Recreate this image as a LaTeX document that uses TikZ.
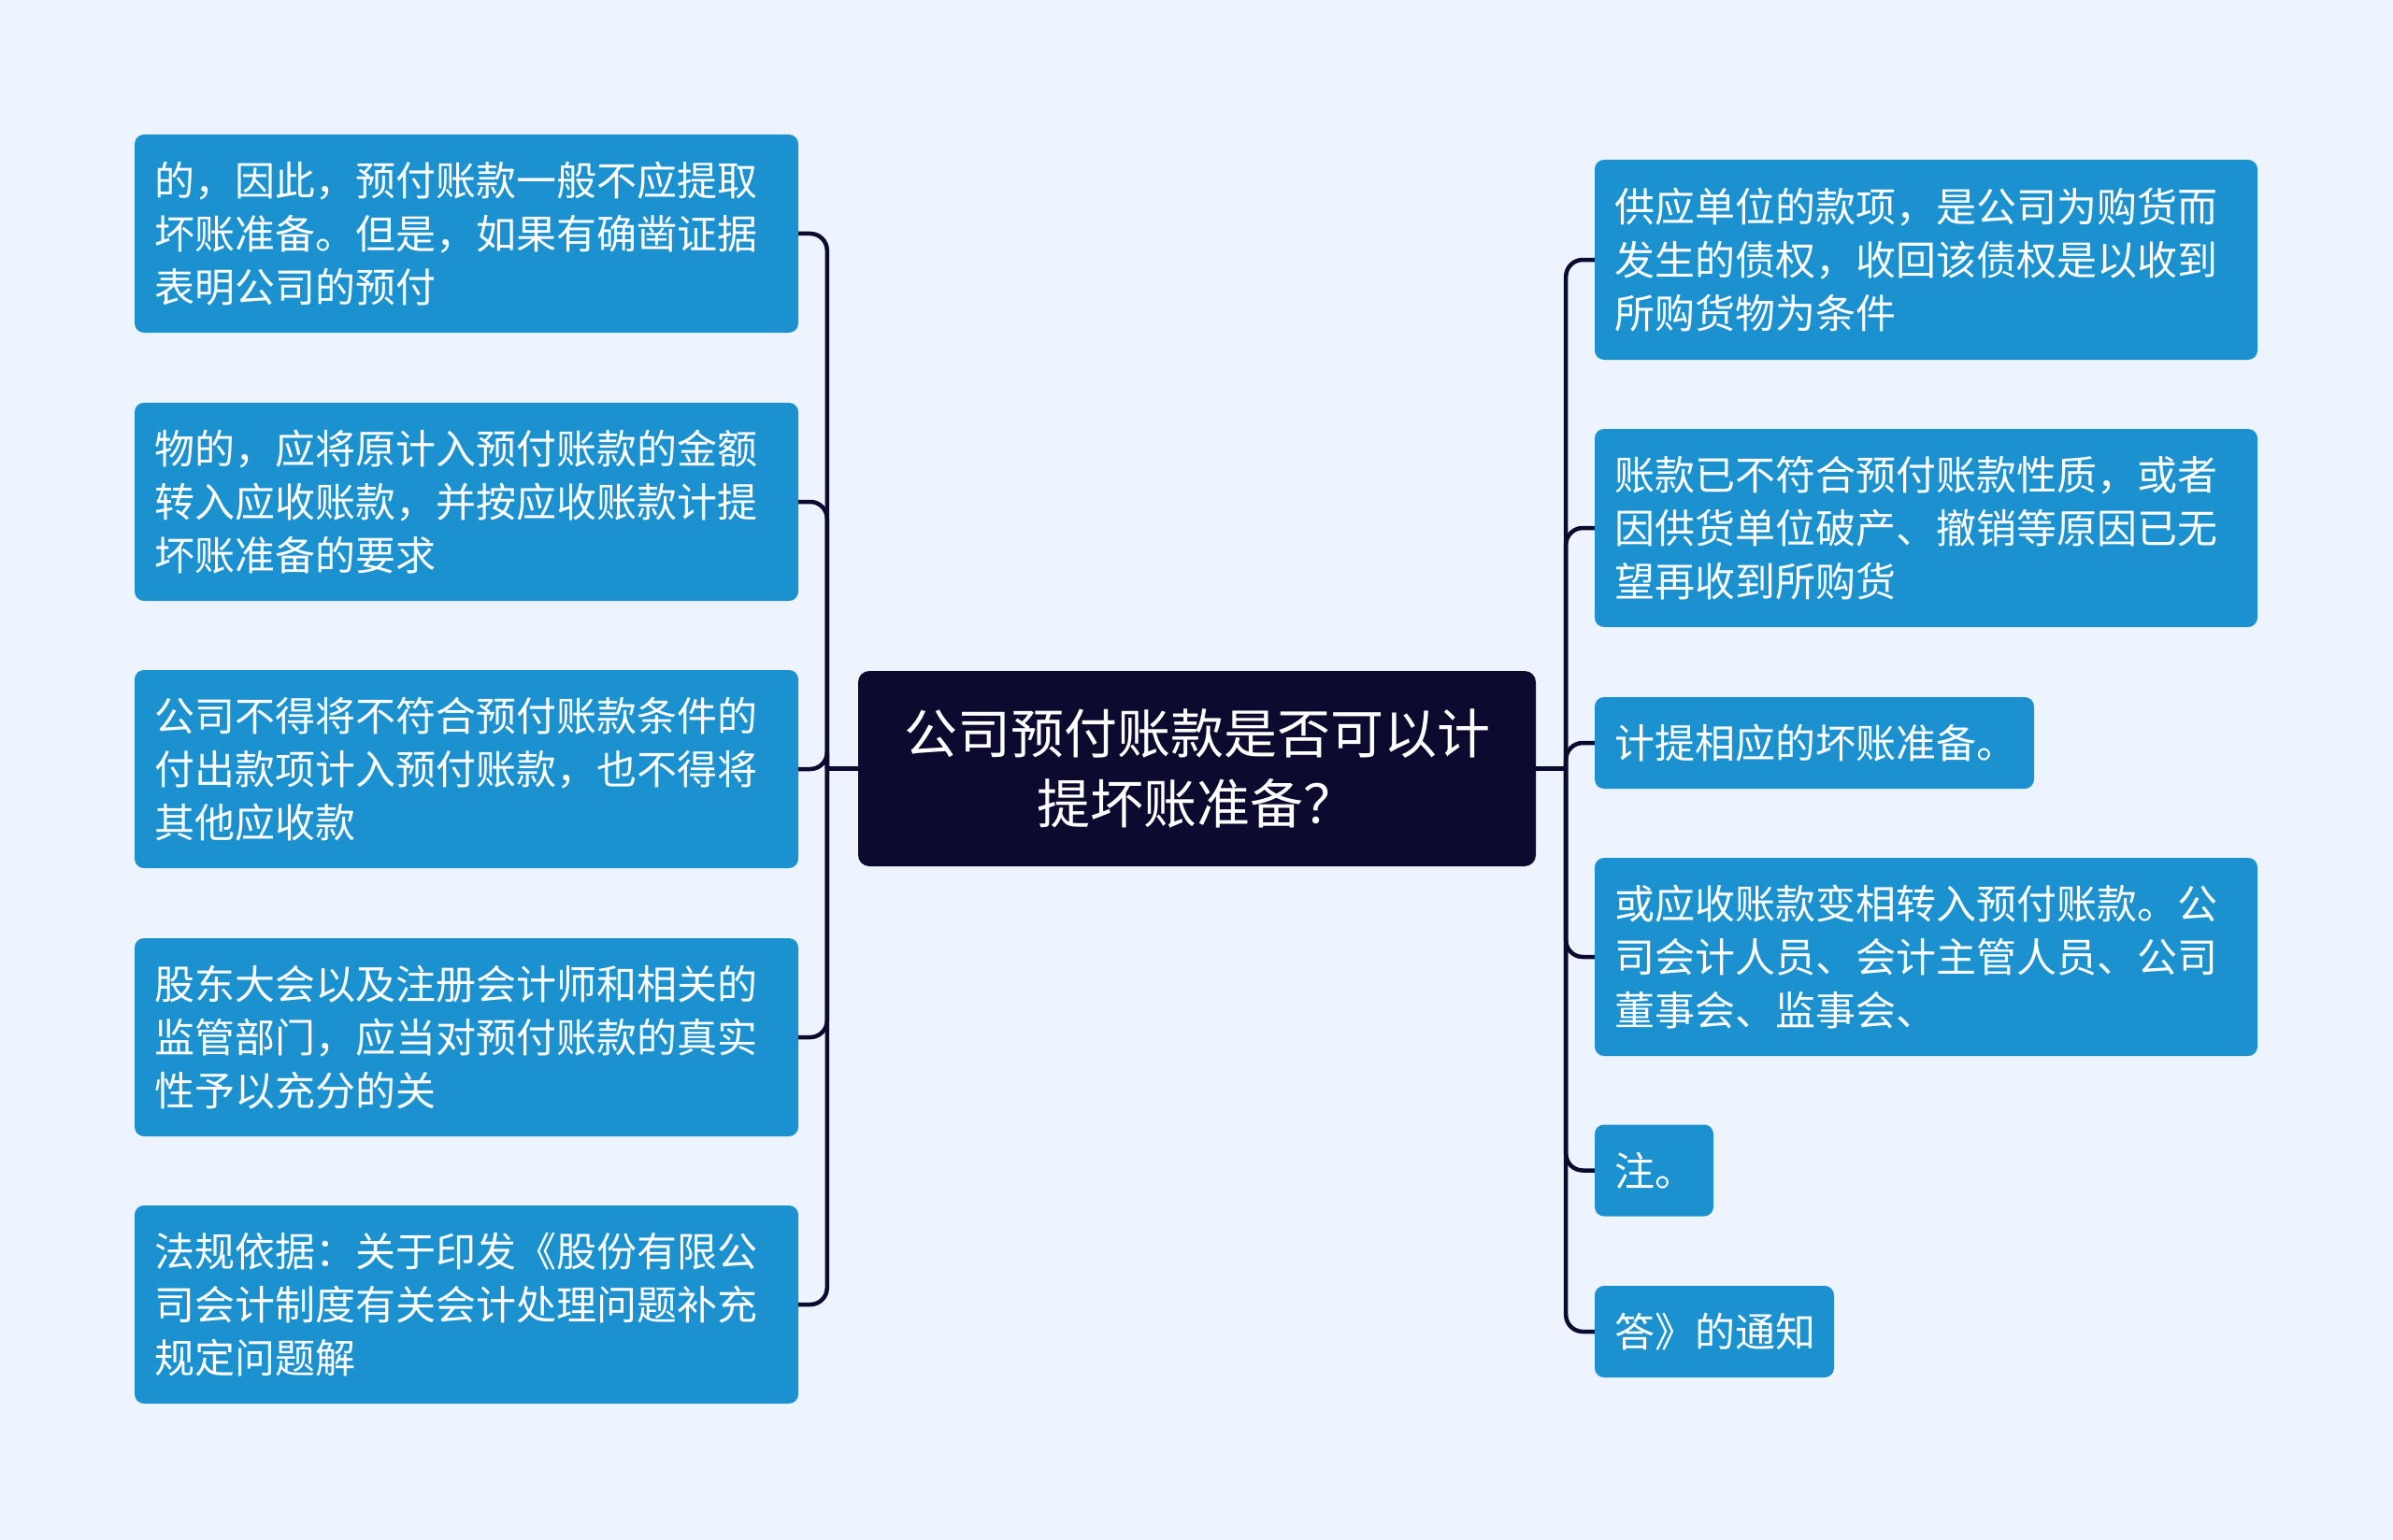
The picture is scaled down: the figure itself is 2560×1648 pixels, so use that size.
\documentclass[tikz,border=0pt]{standalone}
\usepackage{fontspec}
\newfontfamily\cjk{Noto Sans CJK SC}
\definecolor{bgc}{RGB}{238,244,254}
\definecolor{leafc}{RGB}{27,145,208}
\definecolor{rootc}{RGB}{12,10,46}
\definecolor{linec}{RGB}{12,10,46}
\tikzset{
  leaf/.style={fill=leafc, rounded corners=10pt, inner xsep=21pt, inner ysep=0pt,
    text=white, align=left, anchor=center,
    font=\cjk\fontsize{43pt}{57pt}\selectfont},
  rootbox/.style={fill=rootc, rounded corners=12pt, inner sep=0pt, text=white,
    align=center, minimum width=725pt, minimum height=209pt,
    font=\cjk\fontsize{57pt}{75pt}\selectfont},
  conn/.style={draw=linec, line width=4.5pt, rounded corners=18pt},
}
\begin{document}
\begin{tikzpicture}[x=1pt,y=-1pt]
\fill[bgc] (0,0) rectangle (2560,1648);
\useasboundingbox (0,0) rectangle (2560,1648);

\node[rootbox] (c) at (1280.5,822.5) {公司预付账款是否可以计\\提坏账准备？};

% left nodes
\node[leaf, minimum width=710pt, minimum height=212pt, text width=668pt] (L1) at (499,250)
  {的，因此，预付账款一般不应提取\\坏账准备。但是，如果有确凿证据\\表明公司的预付};
\node[leaf, minimum width=710pt, minimum height=212pt, text width=668pt] (L2) at (499,537)
  {物的，应将原计入预付账款的金额\\转入应收账款，并按应收账款计提\\坏账准备的要求};
\node[leaf, minimum width=710pt, minimum height=212pt, text width=668pt] (L3) at (499,823)
  {公司不得将不符合预付账款条件的\\付出款项计入预付账款，也不得将\\其他应收款};
\node[leaf, minimum width=710pt, minimum height=212pt, text width=668pt] (L4) at (499,1110)
  {股东大会以及注册会计师和相关的\\监管部门，应当对预付账款的真实\\性予以充分的关};
\node[leaf, minimum width=710pt, minimum height=212pt, text width=668pt] (L5) at (499,1396)
  {法规依据：关于印发《股份有限公\\司会计制度有关会计处理问题补充\\规定问题解};

% right nodes
\node[leaf, minimum width=709pt, minimum height=214pt, text width=667pt] (R1) at (2060.5,278)
  {供应单位的款项，是公司为购货而\\发生的债权，收回该债权是以收到\\所购货物为条件};
\node[leaf, minimum width=709pt, minimum height=212pt, text width=667pt] (R2) at (2060.5,565)
  {账款已不符合预付账款性质，或者\\因供货单位破产、撤销等原因已无\\望再收到所购货};
\node[leaf, minimum width=470pt, minimum height=98pt, text width=428pt] (R3) at (1941,795)
  {计提相应的坏账准备。};
\node[leaf, minimum width=709pt, minimum height=212pt, text width=667pt] (R4) at (2060.5,1024)
  {或应收账款变相转入预付账款。公\\司会计人员、会计主管人员、公司\\董事会、监事会、};
\node[leaf, minimum width=127pt, minimum height=98pt, text width=85pt] (R5) at (1769.5,1252.5)
  {注。};
\node[leaf, minimum width=256pt, minimum height=98pt, text width=214pt] (R6) at (1834,1425)
  {答》的通知};

% connectors
\coordinate (lj) at ([xshift=-33pt]c.west);
\coordinate (rj) at ([xshift=32pt]c.east);
\draw[conn] (c.west) -- (lj);
\draw[conn] (c.east) -- (rj);
\foreach \n in {L1,L2,L3,L4,L5} { \draw[conn] (lj) |- (\n.east); }
\foreach \n in {R1,R2,R3,R4,R5,R6} { \draw[conn] (rj) |- (\n.west); }
\end{tikzpicture}
\end{document}
